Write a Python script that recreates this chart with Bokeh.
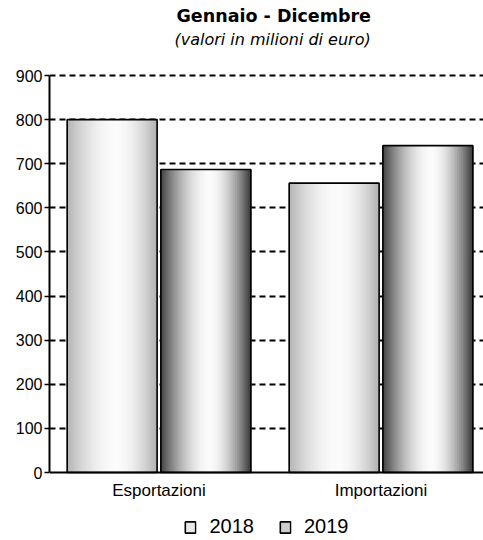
import numpy as np
from bokeh.plotting import figure
from bokeh.models import (ColumnDataSource, Range1d, FixedTicker, Title,
                          Legend, LegendItem, Span)
from bokeh.core.properties import value
from bokeh.embed import file_html
from bokeh.resources import INLINE

# ---- data ----
categories = ["Esportazioni", "Importazioni"]
years = ["2018", "2019"]
values_2018 = [800, 656]
values_2019 = [687, 741]
y_ticks = [0, 100, 200, 300, 400, 500, 600, 700, 800, 900]
title_text = "Gennaio - Dicembre"
subtitle_text = "(valori in milioni di euro)"

# ---- styling / layout parameters ----
BAR_W = 0.405
OFFSETS = {"2018": -0.211, "2019": 0.211}
EDGE = {"2018": 178, "2019": 60}
PEAK = 251
N_STRIPS = 48
PLOT_H = 397                     # pixels between 0 and 900
BELOW_PX = 68                    # room under the zero line for labels + legend
FRAME_H = PLOT_H + 2 + BELOW_PX
px_per_unit = PLOT_H / y_ticks[-1]
Y_TOP = y_ticks[-1] + 2 / px_per_unit
Y_BOTTOM = -BELOW_PX / px_per_unit

p = figure(frame_width=434, frame_height=FRAME_H, output_backend="svg",
           toolbar_location=None, x_axis_location=None,
           x_range=Range1d(0.0068, 1.9617), y_range=Range1d(Y_BOTTOM, Y_TOP),
           min_border_left=49, min_border_right=0, min_border_top=73,
           min_border_bottom=0, title=title_text)

p.title.align = "left"
p.title.offset = 127
p.title.text_font = "DejaVu Sans"
p.title.text_font_style = "bold"
p.title.text_font_size = "17.5px"
p.title.text_color = "black"
p.title.standoff = 0

spacer = Title(text=" ", text_font_size="1px", standoff=20)
p.add_layout(spacer, "above")
sub_title = Title(text=subtitle_text, align="left", offset=125,
                  text_font="DejaVu Sans", text_font_style="italic",
                  text_font_size="16px", text_color="black", standoff=4)
p.add_layout(sub_title, "above")

p.outline_line_color = None
p.background_fill_color = "white"


def shade(t, edge):
    peak_pos = 0.55
    if t < peak_pos:
        d = (peak_pos - t) / peak_pos
    else:
        d = (t - peak_pos) / (1 - peak_pos)
    f = 1 - d ** 1.8
    v = int(round(edge + (PEAK - edge) * f))
    return "#%02x%02x%02x" % (v, v, v)


# grid
p.xgrid.visible = False
p.ygrid.ticker = FixedTicker(ticks=y_ticks[1:])
p.ygrid.grid_line_color = "black"
p.ygrid.grid_line_width = 2
p.ygrid.grid_line_dash = "6 4"

series = {"2018": values_2018, "2019": values_2019}
legend_items = []
for yr in years:
    vals = series[yr]
    centers = [i + 0.5 + OFFSETS[yr] for i in range(len(vals))]
    osrc = ColumnDataSource(dict(x=centers, top=vals))
    # solid base so the grid never shows through the strip seams
    base = p.vbar(x="x", top="top", bottom=0, width=BAR_W, source=osrc,
                  fill_color=shade(0.3, EDGE[yr]), line_color=None)
    xs, tops, cols = [], [], []
    sw = BAR_W / N_STRIPS
    for c, v in zip(centers, vals):
        for k in range(N_STRIPS):
            t = (k + 0.5) / N_STRIPS
            xs.append(c - BAR_W / 2 + t * BAR_W)
            tops.append(v)
            cols.append(shade(t, EDGE[yr]))
    src = ColumnDataSource(dict(x=xs, top=tops, color=cols))
    p.vbar(x="x", top="top", bottom=0, width=sw * 1.8, source=src,
           fill_color="color", line_color=None)
    o = p.vbar(x="x", top="top", bottom=0, width=BAR_W, source=osrc,
               fill_alpha=0, line_color="black", line_width=1.6)
    legend_items.append(LegendItem(label=yr, renderers=[base, o], index=0))

# x axis line at zero and category labels
p.add_layout(Span(location=0, dimension="width", line_color="black", line_width=2))
p.text(x=[i + 0.5 for i in range(len(categories))], y=[0] * len(categories),
       text=categories, text_align="center", text_baseline="middle",
       y_offset=18, text_font=value("Liberation Sans"), text_font_size="17px",
       text_color="black")

# y axis
yax = p.yaxis[0]
yax.ticker = FixedTicker(ticks=y_ticks)
yax.bounds = (y_ticks[0], y_ticks[-1])
yax.axis_line_color = "black"
yax.axis_line_width = 2
yax.minor_tick_line_color = None
yax.major_label_text_font = "Liberation Sans"
yax.major_label_text_color = "black"
yax.major_label_text_font_size = "16px"
yax.major_tick_out = 5
yax.major_tick_in = 0
yax.major_tick_line_width = 1.5
yax.major_tick_line_color = "black"
yax.major_label_standoff = 2

legend = Legend(items=legend_items, orientation="horizontal",
                location="bottom_center",
                label_text_font="Liberation Sans", label_text_font_size="20px",
                label_text_color="black", glyph_width=13, glyph_height=14,
                label_standoff=13, spacing=24, border_line_color=None,
                background_fill_alpha=0, padding=0, margin=2,
                label_height=20)
p.add_layout(legend, "center")

open("out.html", "w").write(file_html(p, INLINE))
